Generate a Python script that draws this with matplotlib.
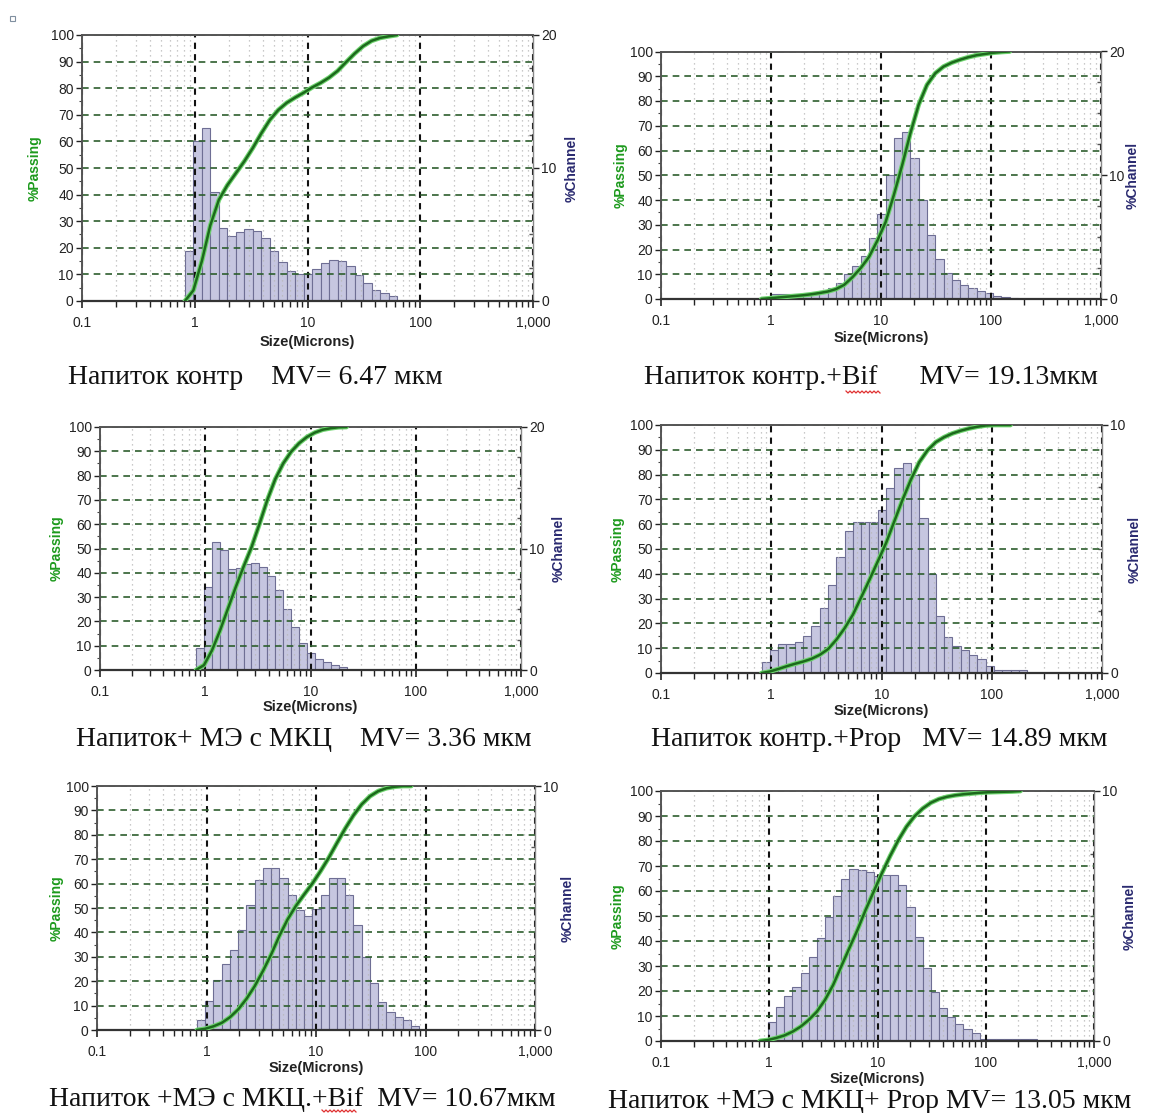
import numpy as np
import matplotlib
matplotlib.use("Agg")
import matplotlib.pyplot as plt
from matplotlib.ticker import FixedLocator, NullFormatter
from matplotlib.lines import Line2D
from matplotlib.patches import Rectangle

# ---------------- data ----------------
# Microtrac channel edges (microns)
EDGES = [0.818, 0.972, 1.156, 1.375, 1.635, 1.944, 2.312, 2.75, 3.27, 3.89,
         4.62, 5.5, 6.54, 7.78, 9.25, 11.0, 13.08, 15.56, 18.5, 22.0,
         26.16, 31.11, 37.0, 44.0, 52.33, 62.23, 74.0, 88.0, 104.7, 124.5,
         148.0, 176.0, 209.3, 248.9, 296.0]

X_TICKS = [0.1, 1, 10, 100, 1000]
X_TICK_LABELS = ["0.1", "1", "10", "100", "1,000"]
Y_TICKS = [0, 10, 20, 30, 40, 50, 60, 70, 80, 90, 100]

# % Channel per channel (starting at 0.818 um)
P1_CHANNEL = [3.75, 12.05, 13.0, 8.2, 5.5, 4.9, 5.2, 5.45, 5.25, 4.7, 3.75, 2.95,
              2.25, 2.0, 2.05, 2.4, 2.85, 3.05, 3.0, 2.6, 1.95, 1.35, 0.8, 0.58, 0.35]
P2_CHANNEL = [0.17, 0.44, 0.41, 0.44, 0.44, 0.44, 0.52, 0.63, 0.85, 1.3, 2.0, 2.7,
              3.5, 4.9, 6.9, 10.0, 13.0, 13.5, 11.4, 8.0, 5.2, 3.2, 2.1, 1.5, 1.1,
              0.85, 0.62, 0.45, 0.27, 0.13, 0.06]
P3_CHANNEL = [1.8, 6.8, 10.5, 9.9, 8.3, 8.4, 8.7, 8.8, 8.5, 7.7, 6.6, 5.0, 3.5,
              2.2, 1.4, 0.9, 0.65, 0.45, 0.28]
P4_CHANNEL = [0.45, 0.93, 1.18, 1.18, 1.24, 1.5, 1.88, 2.64, 3.54, 4.69, 5.71, 6.1,
              6.1, 6.1, 6.57, 7.44, 8.28, 8.45, 8.0, 6.23, 3.98, 2.28, 1.44, 1.08,
              0.92, 0.74, 0.57, 0.3, 0.12, 0.12, 0.12, 0.12]
P5_CHANNEL = [0.40, 1.2, 2.05, 2.71, 3.26, 4.09, 5.14, 6.13, 6.62, 6.62, 6.24, 5.55,
              4.9, 4.66, 4.94, 5.55, 6.21, 6.24, 5.55, 4.3, 2.98, 1.93, 1.15, 0.74,
              0.52, 0.40, 0.15]
P6_CHANNEL = [0.1, 0.77, 1.35, 1.82, 2.15, 2.74, 3.38, 4.14, 4.98, 5.79, 6.48, 6.89,
              6.86, 6.75, 6.62, 6.66, 6.66, 6.26, 5.35, 4.16, 2.94, 1.96, 1.31, 0.97,
              0.68, 0.48, 0.33, 0.1, 0.08, 0.08, 0.08, 0.08, 0.08, 0.08]

# % Passing at channel edges (starting at 0.818 um)
P1_PASSING = [0, 4, 15, 28.5, 38, 43.5, 48, 52.5, 57.5, 63, 68, 71.8, 74.5, 76.5,
              78.3, 80.3, 82, 84, 86.5, 89.8, 93, 95.8, 97.8, 98.9, 99.5, 100]
P2_PASSING = [0, 0.3, 0.6, 0.9, 1.2, 1.5, 1.9, 2.4, 3.0, 4.0, 5.7, 8.8, 12.5, 17,
              23.5, 31, 42, 54, 67, 78.5, 86.5, 91.2, 93.9, 95.5, 96.7, 97.7, 98.5,
              99.0, 99.5, 99.8, 100]
P3_PASSING = [0, 2, 8, 16, 25, 34, 42.5, 50.5, 60, 70, 78.5, 85, 89.8, 93.3, 95.9,
              97.7, 98.9, 99.5, 99.9, 100]
P4_PASSING = [0, 0.6, 1.6, 2.7, 3.7, 4.6, 5.7, 7.3, 9.6, 13.4, 18, 23.5, 30.5, 37.6,
              45, 52.4, 61.2, 70, 78, 85, 89.8, 93.1, 95.1, 96.6, 97.7, 98.6, 99.3,
              99.8, 100, 100, 100]
P5_PASSING = [0, 0.5, 1.5, 2.9, 5.2, 8.4, 12.7, 17.9, 24.1, 30.9, 38.5, 45.3, 50.8,
              55.5, 60, 65.1, 70.6, 76.7, 82.6, 88, 92.5, 95.8, 97.9, 99.1, 99.7, 100, 100]
P6_PASSING = [0, 0.4, 1.2, 2.2, 3.7, 5.7, 8.4, 11.7, 16.4, 22.4, 29.8, 37.2, 44.5,
              52.5, 59.9, 67.2, 74, 80.3, 85.7, 89.9, 93.0, 95.3, 96.8, 97.7, 98.3, 98.7,
              99, 99.3, 99.5, 99.6, 99.7, 99.8, 100]

CHANNEL_MAX = [20, 20, 20, 10, 10, 10]

TITLES = ["Напиток контр    MV= 6.47 мкм",
          "Напиток контр.+Bif      MV= 19.13мкм",
          "Напиток+ МЭ с МКЦ    MV= 3.36 мкм",
          "Напиток контр.+Prop   MV= 14.89 мкм",
          "Напиток +МЭ с МКЦ.+Bif  MV= 10.67мкм",
          "Напиток +МЭ с МКЦ+ Prop MV= 13.05 мкм"]

# ---------------- layout (pixels) ----------------
W, H = 1168, 1113
BOXES = [(82, 35, 533, 301), (661, 51.5, 1101, 299),
         (100, 427, 521, 670), (661, 425, 1102, 673),
         (97, 786, 535, 1030), (661, 791, 1094, 1041)]
TITLE_XY = [(255, 378), (871, 377), (304, 740), (879, 740), (302, 1100), (870, 1102)]
XLABEL_Y = [342, 338, 707, 711, 1068, 1079]
PLABEL_X = [35, 621, 57, 618, 57, 618]
CLABEL_X = [572, 1133, 559, 1135, 568, 1130]
SPELL_MARKS = [(846, 880, 392), (322, 357, 1111)]

plt.rcParams["font.family"] = ["Liberation Sans Narrow", "Liberation Sans", "DejaVu Sans"]

fig = plt.figure(figsize=(W / 100, H / 100), dpi=100)
fig.patch.set_facecolor("white")


def fx(x):
    return x / W


def fy(y):
    return 1 - y / H


channels = [P1_CHANNEL, P2_CHANNEL, P3_CHANNEL, P4_CHANNEL, P5_CHANNEL, P6_CHANNEL]
passings = [P1_PASSING, P2_PASSING, P3_PASSING, P4_PASSING, P5_PASSING, P6_PASSING]

minor_x = [k * 10.0 ** d for d in range(-1, 3) for k in range(2, 10)]

for i in range(6):
    l, t, r, b = BOXES[i]
    ax = fig.add_axes([fx(l), fy(b), fx(r - l), (b - t) / H])
    ax2 = ax.twinx()
    ax.set_zorder(2)
    ax2.set_zorder(1)
    ax.patch.set_visible(False)
    ax2.patch.set_visible(True)
    ax2.patch.set_facecolor("white")

    ax.set_xscale("log")
    ax.set_xlim(0.1, 1000)
    ax.set_ylim(0, 100)
    ax2.set_ylim(0, CHANNEL_MAX[i])

    ch = channels[i]
    n = len(ch)
    left_edges = EDGES[:n]
    widths = np.diff(EDGES[:n + 1])
    ax2.bar(left_edges, ch, width=widths, align="edge", color="#c6c6e0",
            edgecolor="#6e6e94", linewidth=0.8)

    ps = passings[i]
    xs = EDGES[:len(ps)]
    ax.plot(xs, ps, color="#6fd46f", lw=3.4, solid_capstyle="round",
            solid_joinstyle="round", zorder=3)
    ax.plot(xs, ps, color="#1c6a1c", lw=1.8, solid_capstyle="round",
            solid_joinstyle="round", zorder=4)

    # ticks
    ax.xaxis.set_major_locator(FixedLocator(X_TICKS))
    ax.set_xticklabels(X_TICK_LABELS)
    ax.xaxis.set_minor_locator(FixedLocator(minor_x))
    ax.xaxis.set_minor_formatter(NullFormatter())
    ax.set_yticks(Y_TICKS)
    ax.set_yticklabels([str(v) for v in Y_TICKS])
    ax.yaxis.set_minor_locator(FixedLocator(np.arange(0, 101, 5)))

    ch_major = list(range(0, CHANNEL_MAX[i] + 1, 10))
    ax2.set_yticks(ch_major)
    ax2.set_yticklabels([str(v) for v in ch_major])
    ax2.yaxis.set_minor_locator(FixedLocator(np.arange(0, CHANNEL_MAX[i] + 0.01, 2.5)))

    ax.tick_params(axis="x", which="major", direction="out", length=5, width=1.2,
                   pad=6, labelsize=10, colors="#222222")
    ax.tick_params(axis="x", which="minor", direction="out", length=4, width=1.0,
                   color="#222222")
    ax.tick_params(axis="y", which="major", direction="out", length=4, width=1.0,
                   pad=2, labelsize=10, colors="#222222")
    ax.tick_params(axis="y", which="minor", direction="out", length=2, width=0.8,
                   color="#444444")
    ax.tick_params(axis="y", which="both", right=False)
    ax2.tick_params(axis="y", which="major", direction="out", length=4, width=1.0,
                    pad=2, labelsize=10, colors="#222222")
    ax2.tick_params(axis="y", which="minor", direction="in", length=3, width=1.0,
                    color="#555555")

    # grid
    ax.yaxis.grid(True, which="major", color="#2d5e2d", linestyle=(0, (4, 3)), lw=1.2)
    ax.xaxis.grid(True, which="major", color="#111111", linestyle=(0, (3, 2.5)), lw=1.5)
    ax.xaxis.grid(True, which="minor", color="#b8b8b8", linestyle=(0, (1, 3)), lw=0.9)

    for sp in ["top", "left"]:
        ax.spines[sp].set_color("#555555")
        ax.spines[sp].set_linewidth(1.4)
    ax.spines["bottom"].set_color("#333333")
    ax.spines["bottom"].set_linewidth(1.6)
    ax.spines["right"].set_color("#888888")
    ax.spines["right"].set_linewidth(1.0)
    for sp in ax2.spines.values():
        sp.set_visible(False)

    # labels
    fig.text(fx((l + r) / 2), fy(XLABEL_Y[i]), "Size(Microns)", ha="center",
             va="center", fontsize=10.5, fontweight="bold", color="#222222")
    fig.text(fx(PLABEL_X[i]), fy((t + b) / 2), "%Passing", ha="center", va="center",
             rotation=90, fontsize=10, fontweight="bold", color="#1d9a1d")
    fig.text(fx(CLABEL_X[i]), fy((t + b) / 2), "%Channel", ha="center", va="center",
             rotation=90, fontsize=10, fontweight="bold", color="#2a2a70")
    fig.text(fx(TITLE_XY[i][0]), fy(TITLE_XY[i][1]), TITLES[i], ha="center",
             va="center", fontsize=20, family=["Liberation Serif", "DejaVu Serif"],
             color="#111111")

# red spell-check wavy underlines under "Bif"
for x0, x1, yy in SPELL_MARKS:
    xs_w = np.arange(x0, x1 + 0.1, 2.0)
    ys_w = yy + np.where(np.arange(len(xs_w)) % 2 == 0, -1.0, 1.0)
    fig.add_artist(Line2D([fx(v) for v in xs_w], [fy(v) for v in ys_w],
                          color="#e03030", lw=0.9, transform=fig.transFigure))

# small marker in the top-left corner
fig.add_artist(Rectangle((fx(10), fy(21)), 5 / W, 5 / H, transform=fig.transFigure,
                         fill=False, edgecolor="#8090a0", lw=0.8))

fig.savefig("out.png", dpi=100, facecolor="white")
